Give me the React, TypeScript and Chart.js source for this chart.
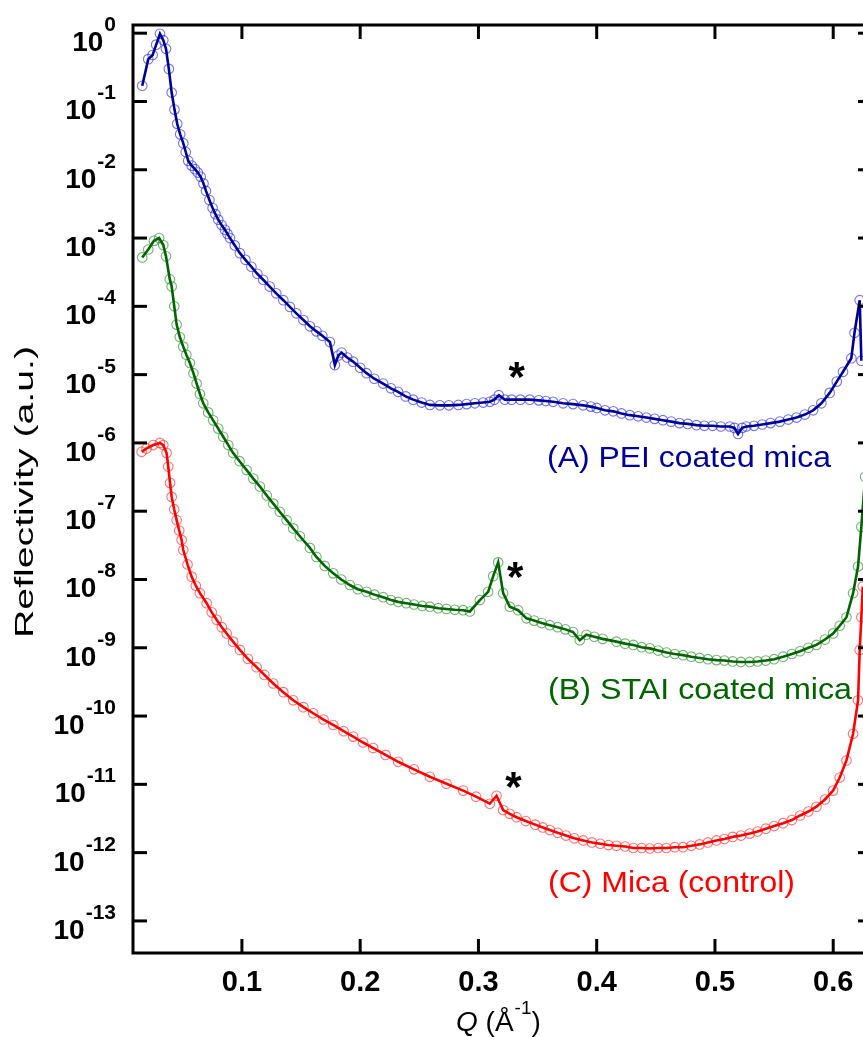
import React, { useEffect, useRef } from "react";
import { Chart, registerables } from "chart.js";

Chart.register(...registerables);

// ---- Data (Q in 1/Å, reflectivity in a.u.) ----
const qA = [0.0157, 0.0208, 0.0245, 0.0275, 0.0307, 0.0335, 0.0358, 0.0382, 0.0406, 0.043, 0.0453, 0.0478, 0.0504, 0.0525, 0.0546, 0.0575, 0.0603, 0.0627, 0.0651, 0.0675, 0.0696, 0.0725, 0.0752, 0.0776, 0.08, 0.0828, 0.0856, 0.0878, 0.0899, 0.094, 0.0983, 0.103, 0.108, 0.113, 0.118, 0.1235, 0.129, 0.135, 0.1406, 0.146, 0.152, 0.1575, 0.163, 0.168, 0.1744, 0.1786, 0.1815, 0.1843, 0.189, 0.194, 0.2, 0.2054, 0.212, 0.2194, 0.226, 0.232, 0.2385, 0.2448, 0.252, 0.259, 0.2674, 0.275, 0.283, 0.29, 0.297, 0.304, 0.3096, 0.3135, 0.3172, 0.3223, 0.328, 0.3355, 0.3434, 0.351, 0.357, 0.3631, 0.3716, 0.38, 0.3885, 0.395, 0.4, 0.407, 0.414, 0.421, 0.428, 0.435, 0.442, 0.449, 0.456, 0.463, 0.47, 0.477, 0.4844, 0.491, 0.498, 0.505, 0.5125, 0.5165, 0.5195, 0.523, 0.5266, 0.533, 0.54, 0.547, 0.5548, 0.562, 0.569, 0.576, 0.583, 0.59, 0.597, 0.603, 0.6083, 0.6153, 0.618, 0.6224, 0.6238];
const rA = [1.7e-1, 4.17e-1, 4.79e-1, 6.8e-1, 9.8e-1, 7.9e-1, 5.9e-1, 3.0e-1, 1.35e-1, 7.6e-2, 4.7e-2, 3.3e-2, 2.45e-2, 1.82e-2, 1.35e-2, 1.15e-2, 1.02e-2, 9.1e-3, 7.9e-3, 6.3e-3, 4.9e-3, 3.6e-3, 2.75e-3, 2.24e-3, 1.86e-3, 1.55e-3, 1.32e-3, 1.15e-3, 1.0e-3, 7.8e-4, 6.0e-4, 4.8e-4, 3.8e-4, 3.0e-4, 2.45e-4, 1.95e-4, 1.55e-4, 1.23e-4, 9.8e-5, 7.9e-5, 6.3e-5, 5.1e-5, 4.3e-5, 3.7e-5, 3.0e-5, 1.38e-5, 1.9e-5, 2.1e-5, 1.78e-5, 1.55e-5, 1.26e-5, 1.05e-5, 8.7e-6, 7.4e-6, 6.3e-6, 5.6e-6, 4.8e-6, 4.3e-6, 3.9e-6, 3.6e-6, 3.55e-6, 3.55e-6, 3.6e-6, 3.7e-6, 3.8e-6, 3.9e-6, 4.0e-6, 4.3e-6, 5.0e-6, 4.3e-6, 4.3e-6, 4.3e-6, 4.3e-6, 4.2e-6, 4.1e-6, 4.0e-6, 3.8e-6, 3.7e-6, 3.55e-6, 3.4e-6, 3.25e-6, 3.0e-6, 2.9e-6, 2.7e-6, 2.55e-6, 2.45e-6, 2.35e-6, 2.25e-6, 2.15e-6, 2.05e-6, 1.95e-6, 1.9e-6, 1.82e-6, 1.78e-6, 1.78e-6, 1.74e-6, 1.74e-6, 1.66e-6, 1.35e-6, 1.66e-6, 1.74e-6, 1.78e-6, 1.86e-6, 1.95e-6, 2.05e-6, 2.2e-6, 2.35e-6, 2.6e-6, 3.0e-6, 3.8e-6, 5.4e-6, 7.9e-6, 1.1e-5, 1.74e-5, 4.1e-5, 1.23e-4, 1.6e-5];

const qB = [0.0157, 0.0208, 0.0256, 0.03, 0.0335, 0.0358, 0.039, 0.0406, 0.0428, 0.0448, 0.0475, 0.0504, 0.053, 0.056, 0.059, 0.0617, 0.0645, 0.0673, 0.0715, 0.0757, 0.08, 0.0842, 0.0885, 0.0926, 0.098, 0.104, 0.1096, 0.1152, 0.121, 0.1265, 0.132, 0.1378, 0.1434, 0.149, 0.1575, 0.163, 0.17, 0.1772, 0.184, 0.1913, 0.198, 0.2054, 0.212, 0.2194, 0.226, 0.2321, 0.239, 0.2455, 0.2525, 0.2589, 0.266, 0.273, 0.28, 0.2871, 0.2927, 0.3012, 0.3082, 0.3125, 0.3167, 0.3209, 0.3265, 0.3336, 0.3407, 0.347, 0.3535, 0.3604, 0.367, 0.3735, 0.38, 0.3857, 0.3913, 0.398, 0.405, 0.4167, 0.424, 0.431, 0.438, 0.4449, 0.452, 0.459, 0.466, 0.473, 0.48, 0.487, 0.494, 0.5013, 0.508, 0.515, 0.522, 0.5294, 0.536, 0.543, 0.55, 0.5576, 0.565, 0.572, 0.579, 0.5858, 0.593, 0.5999, 0.6055, 0.6112, 0.6168, 0.621, 0.6238, 0.627];
const rB = [5.2e-4, 6.8e-4, 9.1e-4, 1.0e-3, 7.9e-4, 5.4e-4, 2.5e-4, 1.95e-4, 1.0e-4, 5.4e-5, 3.55e-5, 2.57e-5, 1.95e-5, 1.48e-5, 1.05e-5, 7.4e-6, 5.2e-6, 3.8e-6, 2.8e-6, 2.14e-6, 1.62e-6, 1.23e-6, 9.3e-7, 7.1e-7, 5.4e-7, 4.0e-7, 3.0e-7, 2.3e-7, 1.7e-7, 1.29e-7, 9.8e-8, 7.4e-8, 5.6e-8, 4.3e-8, 2.9e-8, 2.14e-8, 1.58e-8, 1.23e-8, 1.0e-8, 8.3e-9, 7.2e-9, 6.6e-9, 6.0e-9, 5.5e-9, 5.0e-9, 4.7e-9, 4.5e-9, 4.3e-9, 4.1e-9, 4.0e-9, 3.8e-9, 3.7e-9, 3.6e-9, 3.55e-9, 3.4e-9, 5.0e-9, 6.6e-9, 1.12e-8, 1.78e-8, 6.3e-9, 4.0e-9, 3.55e-9, 2.7e-9, 2.5e-9, 2.3e-9, 2.14e-9, 2.0e-9, 1.86e-9, 1.7e-9, 1.29e-9, 1.55e-9, 1.45e-9, 1.35e-9, 1.23e-9, 1.15e-9, 1.1e-9, 1.02e-9, 9.8e-10, 9.1e-10, 8.5e-10, 8.1e-10, 7.8e-10, 7.4e-10, 7.1e-10, 6.8e-10, 6.6e-10, 6.5e-10, 6.3e-10, 6.2e-10, 6.2e-10, 6.3e-10, 6.5e-10, 6.8e-10, 7.4e-10, 8.1e-10, 8.9e-10, 1.0e-9, 1.1e-9, 1.32e-9, 1.62e-9, 2.1e-9, 2.8e-9, 6.3e-9, 1.55e-8, 5.9e-8, 3.2e-7];

const qC = [0.0152, 0.0194, 0.025, 0.0307, 0.0335, 0.0363, 0.0377, 0.0392, 0.0406, 0.0427, 0.0448, 0.047, 0.049, 0.0504, 0.054, 0.0575, 0.061, 0.0645, 0.0702, 0.0745, 0.0786, 0.083, 0.0871, 0.0925, 0.0983, 0.105, 0.1124, 0.119, 0.1265, 0.135, 0.1434, 0.152, 0.1603, 0.169, 0.1772, 0.186, 0.1941, 0.2025, 0.211, 0.2215, 0.2321, 0.2455, 0.2589, 0.273, 0.2871, 0.298, 0.3096, 0.3153, 0.3209, 0.3265, 0.3322, 0.34, 0.348, 0.3545, 0.3604, 0.367, 0.374, 0.381, 0.3886, 0.396, 0.403, 0.41, 0.4167, 0.424, 0.431, 0.438, 0.4449, 0.452, 0.459, 0.466, 0.473, 0.48, 0.487, 0.494, 0.5013, 0.508, 0.515, 0.522, 0.5294, 0.536, 0.543, 0.55, 0.5576, 0.565, 0.572, 0.579, 0.5858, 0.593, 0.5999, 0.6055, 0.6112, 0.6168, 0.621, 0.6224, 0.6238, 0.625];
const rC = [7.4e-7, 8.3e-7, 9.3e-7, 1.0e-6, 9.3e-7, 7.1e-7, 4.5e-7, 2.6e-7, 1.62e-7, 1.07e-7, 7.4e-8, 5.2e-8, 3.8e-8, 2.7e-8, 1.66e-8, 1.1e-8, 8.1e-9, 6.3e-9, 4.5e-9, 3.3e-9, 2.57e-9, 2.0e-9, 1.62e-9, 1.23e-9, 9.3e-10, 6.9e-10, 5.2e-10, 4.0e-10, 3.0e-10, 2.24e-10, 1.7e-10, 1.35e-10, 1.1e-10, 8.9e-11, 7.4e-11, 6.0e-11, 5.0e-11, 4.1e-11, 3.4e-11, 2.7e-11, 2.14e-11, 1.66e-11, 1.29e-11, 1.02e-11, 8.1e-12, 6.6e-12, 5.2e-12, 6.8e-12, 4.2e-12, 3.7e-12, 3.3e-12, 2.9e-12, 2.57e-12, 2.34e-12, 2.14e-12, 1.95e-12, 1.78e-12, 1.62e-12, 1.51e-12, 1.41e-12, 1.35e-12, 1.29e-12, 1.26e-12, 1.23e-12, 1.17e-12, 1.17e-12, 1.15e-12, 1.17e-12, 1.17e-12, 1.2e-12, 1.2e-12, 1.26e-12, 1.32e-12, 1.41e-12, 1.51e-12, 1.58e-12, 1.7e-12, 1.78e-12, 1.9e-12, 2.04e-12, 2.24e-12, 2.45e-12, 2.7e-12, 3.0e-12, 3.5e-12, 4.0e-12, 4.7e-12, 6.0e-12, 8.1e-12, 1.26e-11, 2.24e-11, 5.5e-11, 1.7e-10, 9.3e-10, 2.8e-9, 7.9e-9];

const seriesLabels = ["(A) PEI coated mica", "(B) STAI coated mica", "(C) Mica (control)"];
const xTickValues = [0.1, 0.2, 0.3, 0.4, 0.5, 0.6];
const yTickValues = [1, 1e-1, 1e-2, 1e-3, 1e-4, 1e-5, 1e-6, 1e-7, 1e-8, 1e-9, 1e-10, 1e-11, 1e-12, 1e-13];
const yTickExponents = ["0", "-1", "-2", "-3", "-4", "-5", "-6", "-7", "-8", "-9", "-10", "-11", "-12", "-13"];
const peakMarks = [
  { q: 0.3172, r: 5.0e-6 },
  { q: 0.3167, r: 1.78e-8 },
  { q: 0.3153, r: 6.8e-12 },
];

const FONT = "'Liberation Sans', Arial, sans-serif";

const toPts = (q: number[], r: number[]) => q.map((x, i) => ({ x, y: r[i] }));

const styleA = { line: "rgb(0,0,150)", mark: "rgba(40,40,230,0.65)", text: "rgb(0,0,150)" };
const styleB = { line: "rgb(0,100,0)", mark: "rgba(20,130,20,0.6)", text: "rgb(0,100,0)" };
const styleC = { line: "rgb(255,0,0)", mark: "rgba(255,40,40,0.65)", text: "rgb(255,0,0)" };

const decorPlugin = {
  id: "decor",
  afterDraw(chart: any) {
    const ctx: CanvasRenderingContext2D = chart.ctx;
    const { left, right, top, bottom } = chart.chartArea;
    const xs = chart.scales.x;
    const ys = chart.scales.y;
    ctx.save();
    ctx.strokeStyle = "#000";
    ctx.lineWidth = 3;
    ctx.lineCap = "butt";
    ctx.beginPath();
    ctx.rect(left, top, right - left, bottom - top);
    ctx.stroke();
    const seg = (x1: number, y1: number, x2: number, y2: number) => {
      ctx.beginPath();
      ctx.moveTo(x1, y1);
      ctx.lineTo(x2, y2);
      ctx.stroke();
    };
    const TL = 14;
    xTickValues.forEach((v) => {
      const px = xs.getPixelForValue(v);
      seg(px, bottom, px, bottom - TL);
      seg(px, top, px, top + TL);
    });
    yTickValues.forEach((v, i) => {
      const py = ys.getPixelForValue(v);
      seg(left, py, left + TL, py);
      seg(right, py, right - TL, py);
      // label 10^exp
      ctx.fillStyle = "#000";
      ctx.textBaseline = "alphabetic";
      ctx.textAlign = "left";
      ctx.font = `bold 21px ${FONT}`;
      const ex = yTickExponents[i];
      const ew = ctx.measureText(ex).width;
      const exLeft = 116 - ew;
      ctx.fillText(ex, exLeft, py - 2);
      ctx.font = `bold 28px ${FONT}`;
      const bw = ctx.measureText("10").width;
      ctx.fillText("10", exLeft - 1 - bw, py + 18);
    });

    // y-axis title
    ctx.save();
    ctx.translate(33, 492);
    ctx.rotate(-Math.PI / 2);
    ctx.font = `26px ${FONT}`;
    ctx.textAlign = "center";
    ctx.textBaseline = "alphabetic";
    ctx.fillStyle = "#000";
    const yt = "Reflectivity (a.u.)";
    const ytw = ctx.measureText(yt).width;
    ctx.scale(292 / ytw, 1);
    ctx.fillText(yt, 0, 0);
    ctx.restore();

    // x-axis title: Q (Å^-1)
    ctx.fillStyle = "#000";
    ctx.textAlign = "left";
    ctx.textBaseline = "alphabetic";
    let x = 456;
    const by = 1031;
    ctx.font = `italic 28px ${FONT}`;
    ctx.fillText("Q", x, by);
    x += ctx.measureText("Q").width;
    ctx.font = `28px ${FONT}`;
    ctx.fillText(" (Å", x, by);
    x += ctx.measureText(" (Å").width + 1;
    ctx.font = `19px ${FONT}`;
    ctx.fillText("-1", x, by - 17);
    x += ctx.measureText("-1").width;
    ctx.font = `28px ${FONT}`;
    ctx.fillText(")", x, by);

    // series labels
    const labelPos = [
      { x: 547, w: 284, y: 467, c: styleA.text },
      { x: 548, w: 304, y: 699, c: styleB.text },
      { x: 548, w: 247, y: 892, c: styleC.text },
    ];
    labelPos.forEach((p, i) => {
      ctx.save();
      ctx.font = `29px ${FONT}`;
      ctx.fillStyle = p.c;
      const w = ctx.measureText(seriesLabels[i]).width;
      ctx.translate(p.x, p.y);
      ctx.scale(p.w / w, 1);
      ctx.fillText(seriesLabels[i], 0, 0);
      ctx.restore();
    });

    // asterisks marking the peaks
    ctx.font = `bold 42px ${FONT}`;
    ctx.fillStyle = "#000";
    ctx.textAlign = "center";
    const astOff = [
      { dx: 18, dy: -28 },
      { dx: 17, dy: 5 },
      { dx: 17, dy: -19 },
    ];
    peakMarks.forEach((m, i) => {
      const px = xs.getPixelForValue(m.q) + astOff[i].dx;
      const py = ys.getPixelForValue(m.r) + astOff[i].dy;
      ctx.fillText("*", px, py + 24);
    });
    ctx.restore();
  },
};

export default function App() {
  const ref = useRef<HTMLCanvasElement | null>(null);
  useEffect(() => {
    document.body.style.margin = "0";
    const canvas = ref.current;
    if (!canvas) return;
    const lineDs = (label: string, q: number[], r: number[], s: any, order: number) => ({
      label,
      data: toPts(q, r),
      showLine: true,
      borderColor: s.line,
      borderWidth: 2.6,
      pointRadius: 0,
      tension: 0,
      fill: false,
      order,
    });
    const markDs = (label: string, q: number[], r: number[], s: any, order: number) => ({
      label,
      data: toPts(q, r),
      showLine: false,
      pointRadius: 4.8,
      pointStyle: "circle",
      pointBorderWidth: 1.1,
      pointBorderColor: s.mark,
      pointBackgroundColor: "rgba(0,0,0,0)",
      order,
    });
    const chart = new Chart(canvas, {
      type: "scatter",
      data: {
        datasets: [
          lineDs(seriesLabels[0], qA, rA, styleA, 1),
          lineDs(seriesLabels[1], qB, rB, styleB, 1),
          lineDs(seriesLabels[2], qC, rC, styleC, 1),
          markDs(seriesLabels[0] + " data", qA, rA, styleA, 2),
          markDs(seriesLabels[1] + " data", qB, rB, styleB, 2),
          markDs(seriesLabels[2] + " data", qC, rC, styleC, 2),
        ] as any,
      },
      options: {
        responsive: false,
        animation: false,
        events: [],
        layout: { padding: { left: 133, top: 25, right: 8, bottom: 0 } },
        plugins: { legend: { display: false }, tooltip: { enabled: false } },
        scales: {
          x: {
            type: "linear",
            min: 0.0079,
            max: 0.6328,
            grid: { display: false, drawTicks: false },
            border: { display: false },
            afterBuildTicks: (scale: any) => {
              scale.ticks = xTickValues.map((v) => ({ value: v }));
            },
            afterFit: (scale: any) => {
              scale.height = 84;
            },
            ticks: {
              padding: 13,
              color: "#000",
              font: { family: FONT, size: 29, weight: "bold" },
              maxRotation: 0,
              autoSkip: false,
              callback: (v: any) => Number(v).toFixed(1),
            },
          },
          y: {
            type: "logarithmic",
            display: false,
            min: 3.39e-14,
            max: 1.318,
          },
        },
      },
      plugins: [decorPlugin],
    });
    return () => chart.destroy();
  }, []);
  return (
    <div style={{ position: "absolute", left: 0, top: 0, width: 863, height: 1037, overflow: "hidden", background: "#fff" }}>
      <canvas ref={ref} width={880} height={1037} style={{ display: "block" }} />
    </div>
  );
}
